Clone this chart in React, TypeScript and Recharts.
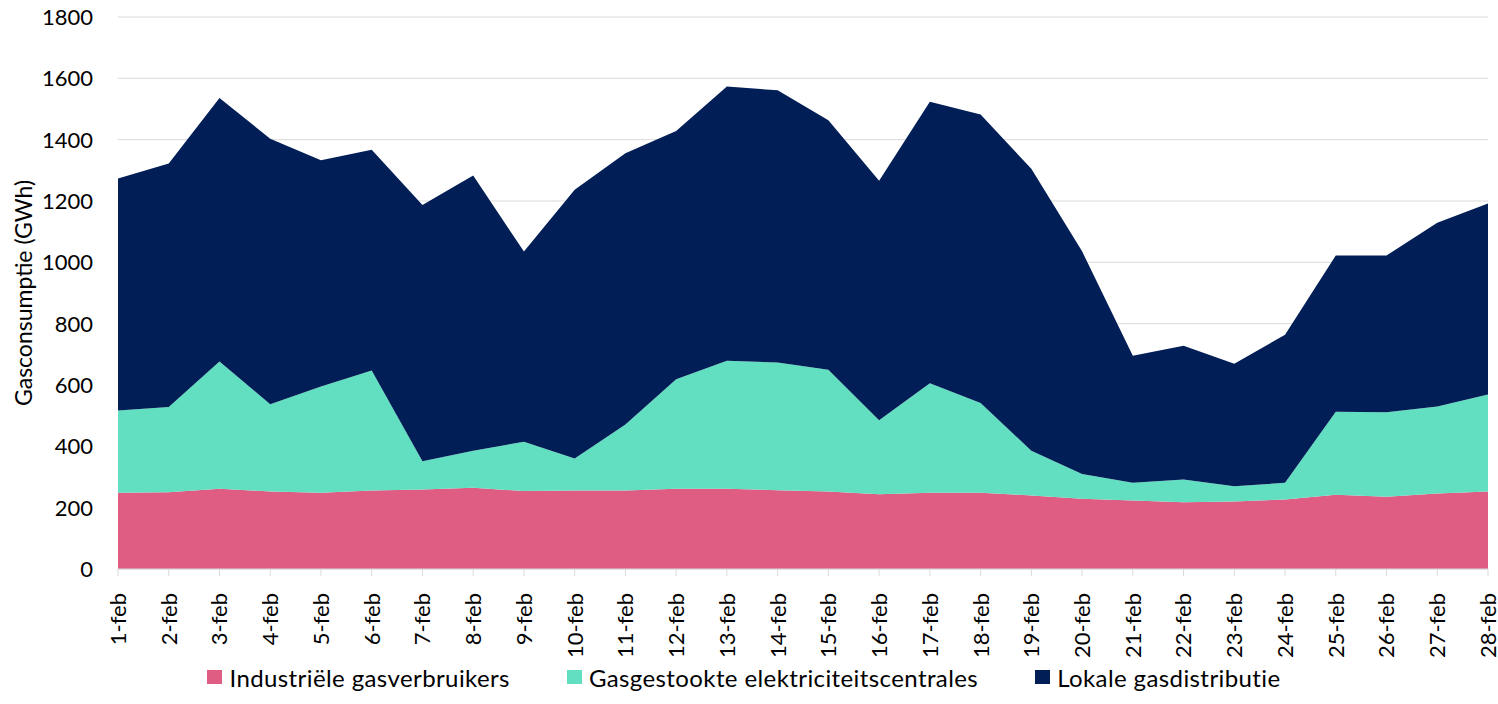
import React from "react";
import { AreaChart, Area, XAxis, YAxis, CartesianGrid, Legend } from "recharts";

const days = [
  "1-feb", "2-feb", "3-feb", "4-feb", "5-feb", "6-feb", "7-feb", "8-feb", "9-feb", "10-feb",
  "11-feb", "12-feb", "13-feb", "14-feb", "15-feb", "16-feb", "17-feb", "18-feb", "19-feb", "20-feb",
  "21-feb", "22-feb", "23-feb", "24-feb", "25-feb", "26-feb", "27-feb", "28-feb",
];

const industrial = [
  249, 250, 262, 253, 249, 256, 259, 265, 254, 256,
  256, 262, 262, 257, 253, 244, 249, 249, 240, 229,
  223, 218, 220, 227, 242, 236, 246, 253,
];

const powerPlants = [
  268, 278, 415, 284, 346, 391, 92, 121, 161, 104,
  215, 357, 417, 416, 397, 241, 357, 292, 146, 81,
  58, 74, 50, 54, 271, 275, 284, 316,
];

const localDistribution = [
  756, 794, 859, 866, 738, 720, 836, 897, 620, 877,
  885, 809, 894, 888, 813, 781, 918, 941, 919, 726,
  414, 436, 399, 483, 509, 511, 599, 623,
];

const yTicks = [0, 200, 400, 600, 800, 1000, 1200, 1400, 1600, 1800];

const seriesNames = [
  "Industriële gasverbruikers",
  "Gasgestookte elektriciteitscentrales",
  "Lokale gasdistributie",
];
const seriesColors = ["#DF5C82", "#62DEC0", "#011E56"];

const data = days.map((d, i) => ({
  day: d,
  industrial: industrial[i],
  power: powerPlants[i],
  local: localDistribution[i],
}));

const FONT = "Lato, 'Open Sans', sans-serif";

const XTick = (props: any) => {
  const { x, y, payload } = props;
  return (
    <text
      transform={`translate(${x},${y + 15}) rotate(-90)`}
      textAnchor="end"
      dy="0.36em"
      fontFamily={FONT}
      fontSize={22}
      fill="#000"
    >
      {payload.value}
    </text>
  );
};

const YTick = (props: any) => {
  const { y, payload } = props;
  return (
    <text x={93} y={y} dy="0.36em" textAnchor="end" fontFamily={FONT} fontSize={22} fill="#000">
      {payload.value}
    </text>
  );
};

const LegendContent = () => (
  <div
    style={{
      display: "flex",
      justifyContent: "center",
      alignItems: "center",
      height: 54,
      fontFamily: FONT,
      fontSize: 24,
      letterSpacing: 0.4,
      color: "#000",
    }}
  >
    {seriesNames.map((n, i) => (
      <div key={n} style={{ display: "flex", alignItems: "center", marginLeft: i === 0 ? 0 : 57 }}>
        <span
          style={{
            display: "inline-block",
            width: 15,
            height: 14,
            background: seriesColors[i],
            marginRight: 7,
          }}
        />
        <span>{n}</span>
      </div>
    ))}
  </div>
);

export default function App() {
  return (
    <div style={{ position: "absolute", left: 0, top: 0, width: 1498, height: 704, background: "#fff" }}>
      <AreaChart
        width={1498}
        height={704}
        data={data}
        margin={{ top: 17, right: 10, left: 0, bottom: 0 }}
      >
        <CartesianGrid vertical={false} stroke="#d9d9d9" strokeWidth={1} />
        <XAxis
          dataKey="day"
          interval={0}
          height={81}
          tick={<XTick />}
          tickSize={7}
          tickLine={{ stroke: "#d9d9d9" }}
          axisLine={{ stroke: "#d9d9d9" }}
        />
        <YAxis
          width={118}
          domain={[0, 1800]}
          ticks={yTicks}
          axisLine={false}
          tickLine={false}
          tick={<YTick />}
          label={{
            value: "Gasconsumptie (GWh)",
            angle: -90,
            position: "insideLeft",
            offset: 0,
            dx: 24,
            style: { textAnchor: "middle", fontFamily: FONT, fontSize: 23, fill: "#000" },
          }}
        />
        <Legend verticalAlign="bottom" height={54} content={<LegendContent />} />
        <Area
          type="linear"
          dataKey="industrial"
          name={seriesNames[0]}
          stackId="1"
          fill={seriesColors[0]}
          fillOpacity={1}
          stroke="none"
          isAnimationActive={false}
        />
        <Area
          type="linear"
          dataKey="power"
          name={seriesNames[1]}
          stackId="1"
          fill={seriesColors[1]}
          fillOpacity={1}
          stroke="none"
          isAnimationActive={false}
        />
        <Area
          type="linear"
          dataKey="local"
          name={seriesNames[2]}
          stackId="1"
          fill={seriesColors[2]}
          fillOpacity={1}
          stroke="none"
          isAnimationActive={false}
        />
      </AreaChart>
    </div>
  );
}
